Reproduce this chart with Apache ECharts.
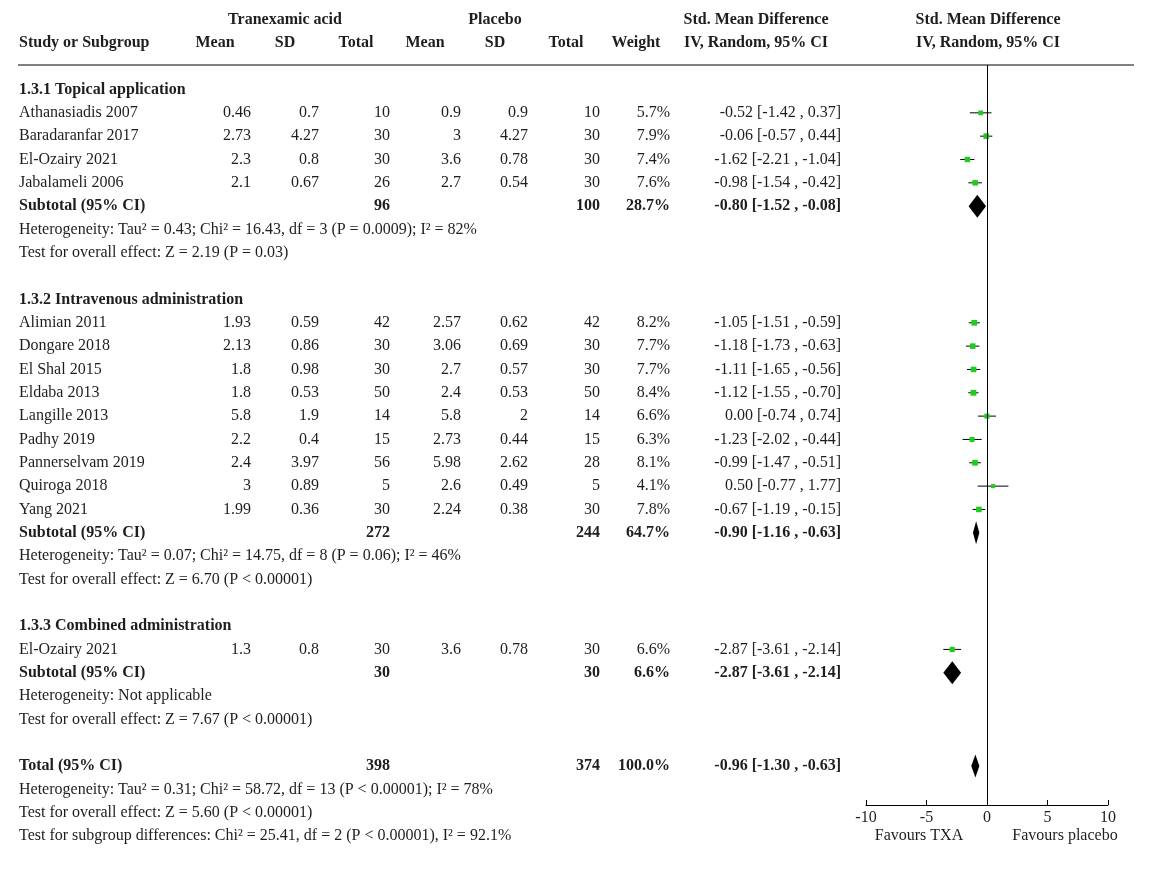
<!DOCTYPE html>
<html>
<head>
<meta charset="utf-8">
<title>Forest plot</title>
<script src="https://cdn.jsdelivr.net/npm/echarts@6/dist/echarts.min.js"></script>
<style>
html, body { margin: 0; padding: 0; background: #fff; }
#chart { width: 1168px; height: 878px; }
</style>
</head>
<body>
<div id="chart"></div>
<script>
// studies
var studyNames = ['Athanasiadis 2007', 'Baradaranfar 2017', 'El-Ozairy 2021', 'Jabalameli 2006',
    'Alimian 2011', 'Dongare 2018', 'El Shal 2015', 'Eldaba 2013', 'Langille 2013', 'Padhy 2019',
    'Pannerselvam 2019', 'Quiroga 2018', 'Yang 2021',
    'El-Ozairy 2021'];
var studyRows = [1, 2, 3, 4, 10, 11, 12, 13, 14, 15, 16, 17, 18, 24];
var txaMean = [0.46, 2.73, 2.3, 2.1, 1.93, 2.13, 1.8, 1.8, 5.8, 2.2, 2.4, 3, 1.99, 1.3];
var txaSd = [0.7, 4.27, 0.8, 0.67, 0.59, 0.86, 0.98, 0.53, 1.9, 0.4, 3.97, 0.89, 0.36, 0.8];
var txaN = [10, 30, 30, 26, 42, 30, 30, 50, 14, 15, 56, 5, 30, 30];
var plaMean = [0.9, 3, 3.6, 2.7, 2.57, 3.06, 2.7, 2.4, 5.8, 2.73, 5.98, 2.6, 2.24, 3.6];
var plaSd = [0.9, 4.27, 0.78, 0.54, 0.62, 0.69, 0.57, 0.53, 2, 0.44, 2.62, 0.49, 0.38, 0.78];
var plaN = [10, 30, 30, 30, 42, 30, 30, 50, 14, 15, 28, 5, 30, 30];
var weight = [5.7, 7.9, 7.4, 7.6, 8.2, 7.7, 7.7, 8.4, 6.6, 6.3, 8.1, 4.1, 7.8, 6.6];
var smd = [-0.52, -0.06, -1.62, -0.98, -1.05, -1.18, -1.11, -1.12, 0.00, -1.23, -0.99, 0.50, -0.67, -2.87];
var ciLow = [-1.42, -0.57, -2.21, -1.54, -1.51, -1.73, -1.65, -1.55, -0.74, -2.02, -1.47, -0.77, -1.19, -3.61];
var ciHigh = [0.37, 0.44, -1.04, -0.42, -0.59, -0.63, -0.56, -0.70, 0.74, -0.44, -0.51, 1.77, -0.15, -2.14];

// subtotals and total
var subNames = ['Subtotal (95% CI)', 'Subtotal (95% CI)', 'Subtotal (95% CI)', 'Total (95% CI)'];
var subRows = [5, 19, 25, 29];
var subTxaN = [96, 272, 30, 398];
var subPlaN = [100, 244, 30, 374];
var subWeight = [28.7, 64.7, 6.6, 100.0];
var subSmd = [-0.80, -0.90, -2.87, -0.96];
var subLow = [-1.52, -1.16, -3.61, -1.30];
var subHigh = [-0.08, -0.63, -2.14, -0.63];

// group titles
var groupTitles = ['1.3.1 Topical application', '1.3.2 Intravenous administration', '1.3.3 Combined administration'];
var groupRows = [0, 9, 23];

// statistics lines
var noteLines = [
    'Heterogeneity: Tau² = 0.43; Chi² = 16.43, df = 3 (P = 0.0009); I² = 82%',
    'Test for overall effect: Z = 2.19 (P = 0.03)',
    'Heterogeneity: Tau² = 0.07; Chi² = 14.75, df = 8 (P = 0.06); I² = 46%',
    'Test for overall effect: Z = 6.70 (P < 0.00001)',
    'Heterogeneity: Not applicable',
    'Test for overall effect: Z = 7.67 (P < 0.00001)',
    'Heterogeneity: Tau² = 0.31; Chi² = 58.72, df = 13 (P < 0.00001); I² = 78%',
    'Test for overall effect: Z = 5.60 (P < 0.00001)',
    'Test for subgroup differences: Chi² = 25.41, df = 2 (P < 0.00001), I² = 92.1%'
];
var noteRows = [6, 7, 20, 21, 26, 27, 30, 31, 32];

// axis
var xMin = -10, xMax = 10, xStep = 5;
var favourLabels = ['Favours TXA', 'Favours placebo'];

var FONT = 'Liberation Serif';
var FS = 16;
var INK = '#1e1e1e';
var GREEN = '#1fcc1f';
var ROW_H = 23.33;
var ROW0_Y = 89.5;
var PLOT_TOP = 65, PLOT_BOTTOM = 805;

var chart = echarts.init(document.getElementById('chart'));

function ciText(m, lo, hi) {
    return m.toFixed(2) + ' [' + lo.toFixed(2) + ' , ' + hi.toFixed(2) + ']';
}

var squareData = studyRows.map(function (r, i) {
    return [smd[i], r, weight[i]];
});
var whiskerData = studyRows.map(function (r, i) {
    return [ciLow[i], ciHigh[i], r];
});
var diamondData = subRows.map(function (r, i) {
    return [subLow[i], subSmd[i], subHigh[i], r];
});

var option = {
    animation: false,
    backgroundColor: '#fff',
    grid: {
        left: 866,
        right: 1168 - 1108,
        top: PLOT_TOP,
        bottom: 878 - PLOT_BOTTOM
    },
    xAxis: {
        type: 'value',
        position: 'bottom',
        min: xMin,
        max: xMax,
        interval: xStep,
        axisLine: { show: true, onZero: false, lineStyle: { color: '#000', width: 1 } },
        axisTick: { show: true, inside: true, length: 5, lineStyle: { color: '#000' } },
        axisLabel: { fontFamily: FONT, fontSize: FS, color: INK, margin: 5 },
        splitLine: { show: false }
    },
    yAxis: {
        type: 'value',
        inverse: true,
        show: false,
        min: -(ROW0_Y - PLOT_TOP) / ROW_H,
        max: (PLOT_BOTTOM - ROW0_Y) / ROW_H,
        splitLine: { show: false }
    },
    series: [
        {
            type: 'custom',
            name: 'ci',
            data: whiskerData,
            encode: { x: [0, 1], y: 2 },
            renderItem: function (params, api) {
                var a = api.coord([api.value(0), api.value(2)]);
                var b = api.coord([api.value(1), api.value(2)]);
                return {
                    type: 'line',
                    shape: { x1: a[0], y1: a[1], x2: b[0], y2: b[1] },
                    style: { stroke: '#000', lineWidth: 1 }
                };
            },
            z: 2
        },
        {
            type: 'scatter',
            name: 'smd',
            data: squareData,
            symbol: 'rect',
            symbolSize: function (v) { return Math.sqrt(v[2]) * 2; },
            itemStyle: { color: GREEN, opacity: 1 },
            z: 3,
            markLine: {
                silent: true,
                symbol: ['none', 'none'],
                label: { show: false },
                lineStyle: { color: '#000', width: 1, type: 'solid' },
                data: [{ xAxis: 0 }]
            }
        },
        {
            type: 'custom',
            name: 'pooled',
            data: diamondData,
            encode: { x: [0, 2], y: 3 },
            renderItem: function (params, api) {
                var lo = api.coord([api.value(0), api.value(3)]);
                var mid = api.coord([api.value(1), api.value(3)]);
                var hi = api.coord([api.value(2), api.value(3)]);
                var h = 11.5;
                return {
                    type: 'polygon',
                    shape: { points: [[lo[0], mid[1]], [mid[0], mid[1] - h], [hi[0], mid[1]], [mid[0], mid[1] + h]] },
                    style: { fill: '#000' }
                };
            },
            z: 4
        }
    ]
};

chart.setOption(option);

function rowY(r) {
    return chart.convertToPixel({ yAxisIndex: 0 }, r);
}

var graphics = [];
function txt(s, x, y, align, bold) {
    graphics.push({
        type: 'text',
        x: x,
        y: y,
        silent: true,
        style: {
            text: s,
            fontFamily: FONT,
            fontSize: FS,
            fontWeight: bold ? 'bold' : 'normal',
            fill: INK,
            align: align,
            verticalAlign: 'middle',
            textAlign: align,
            textVerticalAlign: 'middle'
        }
    });
}

// header
var h1 = 20, h2 = 42.5;
txt('Tranexamic acid', 285, h1, 'center', true);
txt('Placebo', 495, h1, 'center', true);
txt('Std. Mean Difference', 756, h1, 'center', true);
txt('Std. Mean Difference', 988, h1, 'center', true);
txt('Study or Subgroup', 19, h2, 'left', true);
txt('Mean', 215, h2, 'center', true);
txt('SD', 285, h2, 'center', true);
txt('Total', 356, h2, 'center', true);
txt('Mean', 425, h2, 'center', true);
txt('SD', 495, h2, 'center', true);
txt('Total', 566, h2, 'center', true);
txt('Weight', 636, h2, 'center', true);
txt('IV, Random, 95% CI', 756, h2, 'center', true);
txt('IV, Random, 95% CI', 988, h2, 'center', true);

graphics.push({
    type: 'line',
    silent: true,
    shape: { x1: 18, y1: PLOT_TOP, x2: 1134, y2: PLOT_TOP },
    style: { stroke: '#000', lineWidth: 1 }
});

groupRows.forEach(function (r, i) {
    txt(groupTitles[i], 19, rowY(r), 'left', true);
});

studyRows.forEach(function (r, i) {
    var y = rowY(r);
    txt(studyNames[i], 19, y, 'left', false);
    txt(String(txaMean[i]), 251, y, 'right', false);
    txt(String(txaSd[i]), 319, y, 'right', false);
    txt(String(txaN[i]), 390, y, 'right', false);
    txt(String(plaMean[i]), 461, y, 'right', false);
    txt(String(plaSd[i]), 528, y, 'right', false);
    txt(String(plaN[i]), 600, y, 'right', false);
    txt(weight[i].toFixed(1) + '%', 670, y, 'right', false);
    txt(ciText(smd[i], ciLow[i], ciHigh[i]), 841, y, 'right', false);
});

subRows.forEach(function (r, i) {
    var y = rowY(r);
    txt(subNames[i], 19, y, 'left', true);
    txt(String(subTxaN[i]), 390, y, 'right', true);
    txt(String(subPlaN[i]), 600, y, 'right', true);
    txt(subWeight[i].toFixed(1) + '%', 670, y, 'right', true);
    txt(ciText(subSmd[i], subLow[i], subHigh[i]), 841, y, 'right', true);
});

noteRows.forEach(function (r, i) {
    txt(noteLines[i], 19, rowY(r), 'left', false);
});

txt(favourLabels[0], 919, 836, 'center', false);
txt(favourLabels[1], 1065, 836, 'center', false);

chart.setOption({ graphic: graphics });
</script>
</body>
</html>
